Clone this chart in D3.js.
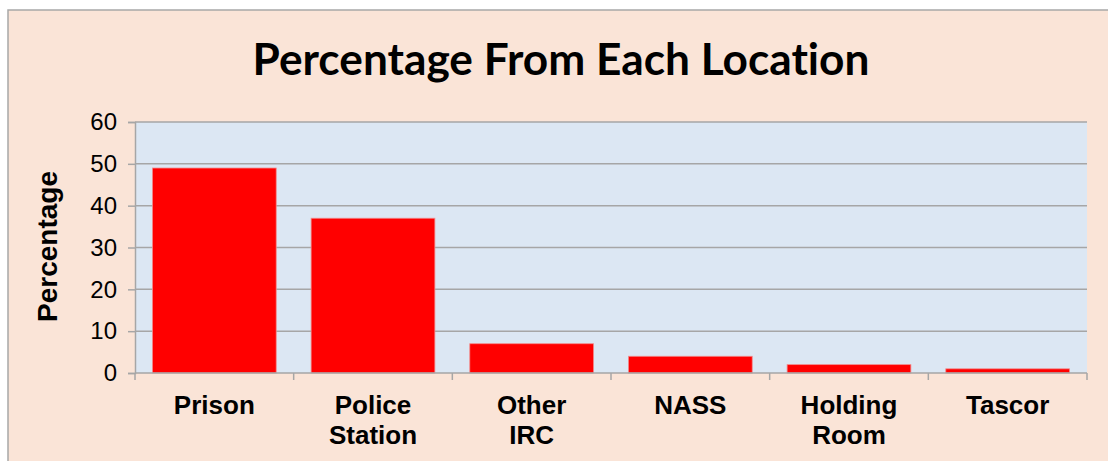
<!DOCTYPE html>
<html>
<head>
<meta charset="utf-8">
<script src="https://cdn.jsdelivr.net/npm/d3@7"></script>
<style>
  body { margin: 0; background: #fff; }
  svg { display: block; }
  .title { font-variant-ligatures: none; font-feature-settings: "liga" 0; }
</style>
</head>
<body>
<svg id="chart" width="1108" height="461"></svg>
<script>
// chart data
const categories = [["Prison"], ["Police", "Station"], ["Other", "IRC"], ["NASS"], ["Holding", "Room"], ["Tascor"]];
const values = [49, 37, 7, 4, 2, 1];
const yTicks = [0, 10, 20, 30, 40, 50, 60];

const svg = d3.select("#chart");
const W = 1108, H = 461;
const margin = { top: 122, right: 21, bottom: 88, left: 135 };
const width = W - margin.left - margin.right;
const height = H - margin.top - margin.bottom;

// outer chart area
svg.append("rect")
    .attr("x", 8).attr("y", 10)
    .attr("width", W).attr("height", H)
    .attr("fill", "#FAE4D7")
    .attr("stroke", "#A8A8A8")
    .attr("stroke-width", 1.5);

const title = svg.append("text")
    .attr("class", "title")
    .attr("x", 561).attr("y", 75)
    .attr("text-anchor", "middle")
    .attr("font-family", "Lato, 'Open Sans', sans-serif")
    .attr("font-weight", "bold")
    .attr("font-size", 40)
    .attr("fill", "#000")
    .text("Percentage From Each Location");
// fit the title to the width seen in the picture
const tw = title.node().getComputedTextLength();
title.attr("font-size", 40 * 617 / tw);

const keys = categories.map(d => d.join(" "));

const x = d3.scaleBand()
    .domain(keys)
    .range([0, width])
    .paddingInner(0.22)
    .paddingOuter(0.11);

const y = d3.scaleLinear()
    .domain([0, 60])
    .range([height, 0]);

const g = svg.append("g")
    .attr("transform", `translate(${margin.left},${margin.top})`);

g.append("rect")
    .attr("width", width).attr("height", height)
    .attr("fill", "#DCE7F3");

// gridlines + y ticks
const yAxis = g.append("g")
    .call(d3.axisLeft(y).tickValues(yTicks).tickSize(7).tickPadding(11));
yAxis.select(".domain").attr("stroke", "#A6A6A6").attr("stroke-width", 1.5);
yAxis.selectAll(".tick line").attr("stroke", "#A6A6A6").attr("stroke-width", 1.5);
yAxis.selectAll(".tick text")
    .attr("font-family", "'Liberation Sans', Arial, sans-serif")
    .attr("font-size", 24)
    .attr("fill", "#000");

g.append("g")
    .selectAll("line")
    .data(yTicks.filter(d => d > 0))
    .join("line")
    .attr("x1", 0).attr("x2", width)
    .attr("y1", d => y(d)).attr("y2", d => y(d))
    .attr("stroke", "#A6A6A6")
    .attr("stroke-width", 1.5);

// bars
g.selectAll(".bar")
    .data(values)
    .join("rect")
    .attr("class", "bar")
    .attr("x", (d, i) => x(keys[i]))
    .attr("y", d => y(d))
    .attr("width", x.bandwidth())
    .attr("height", d => height - y(d))
    .attr("fill", "#FF0000")
    .attr("stroke", "#F28C8C")
    .attr("stroke-width", 0.8);

// x axis line and ticks between categories
g.append("line")
    .attr("x1", 0).attr("x2", width)
    .attr("y1", height).attr("y2", height)
    .attr("stroke", "#A6A6A6").attr("stroke-width", 1.5);

const step = x.step();
g.append("g")
    .selectAll("line")
    .data(d3.range(keys.length + 1))
    .join("line")
    .attr("x1", i => i * step).attr("x2", i => i * step)
    .attr("y1", height).attr("y2", height + 7)
    .attr("stroke", "#A6A6A6").attr("stroke-width", 1.5);

// category labels
const lab = g.append("g")
    .selectAll("text")
    .data(categories)
    .join("text")
    .attr("x", (d, i) => x(keys[i]) + x.bandwidth() / 2)
    .attr("y", height + 41)
    .attr("text-anchor", "middle")
    .attr("font-family", "'Liberation Sans', Arial, sans-serif")
    .attr("font-weight", "bold")
    .attr("font-size", 26)
    .attr("fill", "#000");
lab.selectAll("tspan")
    .data(d => d)
    .join("tspan")
    .attr("x", function () { return this.parentNode.getAttribute("x"); })
    .attr("dy", (d, i) => i === 0 ? 0 : 30)
    .text(d => d);

// y axis title
svg.append("text")
    .attr("transform", `translate(57,${margin.top + height / 2 - 1}) rotate(-90)`)
    .attr("text-anchor", "middle")
    .attr("font-family", "'Liberation Sans', Arial, sans-serif")
    .attr("font-weight", "bold")
    .attr("font-size", 28)
    .attr("fill", "#000")
    .text("Percentage");
</script>
</body>
</html>
